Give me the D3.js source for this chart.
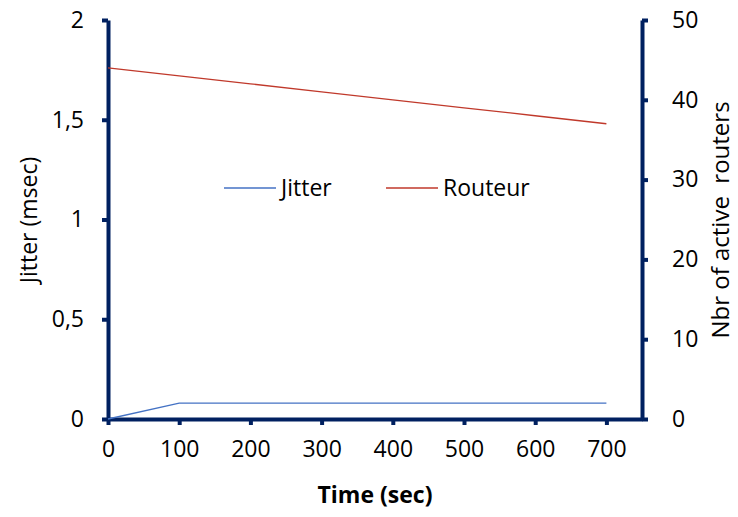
<!DOCTYPE html>
<html>
<head>
<meta charset="utf-8"/>
<script src="https://d3js.org/d3.v7.min.js"></script>
<style>
  body { margin: 0; background: #fff; }
  text { font-family: "Open Sans", sans-serif; fill: #000; }
</style>
</head>
<body>
<div id="chart"></div>
<script>
// data
var times = [0, 100, 200, 300, 400, 500, 600, 700];
var jitter = [0, 0.08, 0.08, 0.08, 0.08, 0.08, 0.08, 0.08];
var routers = [44, 43, 42, 41, 40, 39, 38, 37];
var xTicks = [0, 100, 200, 300, 400, 500, 600, 700];
var leftTicks = [0, 0.5, 1, 1.5, 2];
var rightTicks = [0, 10, 20, 30, 40, 50];

var W = 738, H = 517;
var m = {top: 20, right: 96, bottom: 98, left: 108};
var navy = "#002060";

var svg = d3.select("#chart").append("svg")
    .attr("width", W).attr("height", H);

var x = d3.scaleLinear().domain([0, 750]).range([m.left, W - m.right]);
var yL = d3.scaleLinear().domain([0, 2]).range([H - m.bottom, m.top]);
var yR = d3.scaleLinear().domain([0, 50]).range([H - m.bottom, m.top]);

var fmt = function(d) { return String(d).replace(".", ","); };

function styleAxis(g) {
  g.select(".domain").attr("stroke", navy).attr("stroke-width", 4);
  g.selectAll(".tick line").attr("stroke", navy).attr("stroke-width", 4);
  g.selectAll(".tick text").style("font-size", "23px").attr("fill", "#000");
}

svg.append("g")
    .attr("transform", "translate(0," + (H - m.bottom) + ")")
    .call(d3.axisBottom(x).tickValues(xTicks).tickSize(6).tickSizeOuter(0).tickPadding(16))
    .call(styleAxis);

svg.append("g")
    .attr("transform", "translate(" + m.left + ",0)")
    .call(d3.axisLeft(yL).tickValues(leftTicks).tickFormat(fmt).tickSize(6).tickSizeOuter(0).tickPadding(18))
    .call(styleAxis);

svg.append("g")
    .attr("transform", "translate(" + (W - m.right) + ",0)")
    .call(d3.axisRight(yR).tickValues(rightTicks).tickSize(6).tickSizeOuter(0).tickPadding(24))
    .call(styleAxis);

var lineJ = d3.line().x(function(d, i) { return x(times[i]); }).y(function(d) { return yL(d); });
var lineR = d3.line().x(function(d, i) { return x(times[i]); }).y(function(d) { return yR(d); });

svg.append("path").datum(jitter).attr("d", lineJ)
    .attr("fill", "none").attr("stroke", "#4472C4").attr("stroke-width", 1.3);
svg.append("path").datum(routers).attr("d", lineR)
    .attr("fill", "none").attr("stroke", "#C0392B").attr("stroke-width", 1.3);

// legend
var legend = [{name: "Jitter", color: "#4472C4", x: 224}, {name: "Routeur", color: "#C0392B", x: 386}];
var lg = svg.selectAll(".leg").data(legend).enter().append("g");
lg.append("line").attr("x1", function(d) { return d.x; }).attr("x2", function(d) { return d.x + 52; })
    .attr("y1", 188).attr("y2", 188).attr("stroke", function(d) { return d.color; }).attr("stroke-width", 1.3);
lg.append("text").attr("x", function(d) { return d.x + 57; }).attr("y", 188).attr("dy", "0.35em")
    .style("font-size", "23px").text(function(d) { return d.name; });

// axis titles
svg.append("text").attr("x", 375).attr("y", 503).attr("text-anchor", "middle")
    .style("font-size", "23px").style("font-weight", "bold").text("Time (sec)");
svg.append("text").attr("transform", "translate(37,220) rotate(-90)").attr("text-anchor", "middle")
    .style("font-size", "23px").text("Jitter (msec)");
svg.append("text").attr("transform", "translate(729,220) rotate(-90)").attr("text-anchor", "middle")
    .style("font-size", "24px").style("white-space", "pre").text("Nbr of active  routers");
</script>
</body>
</html>
